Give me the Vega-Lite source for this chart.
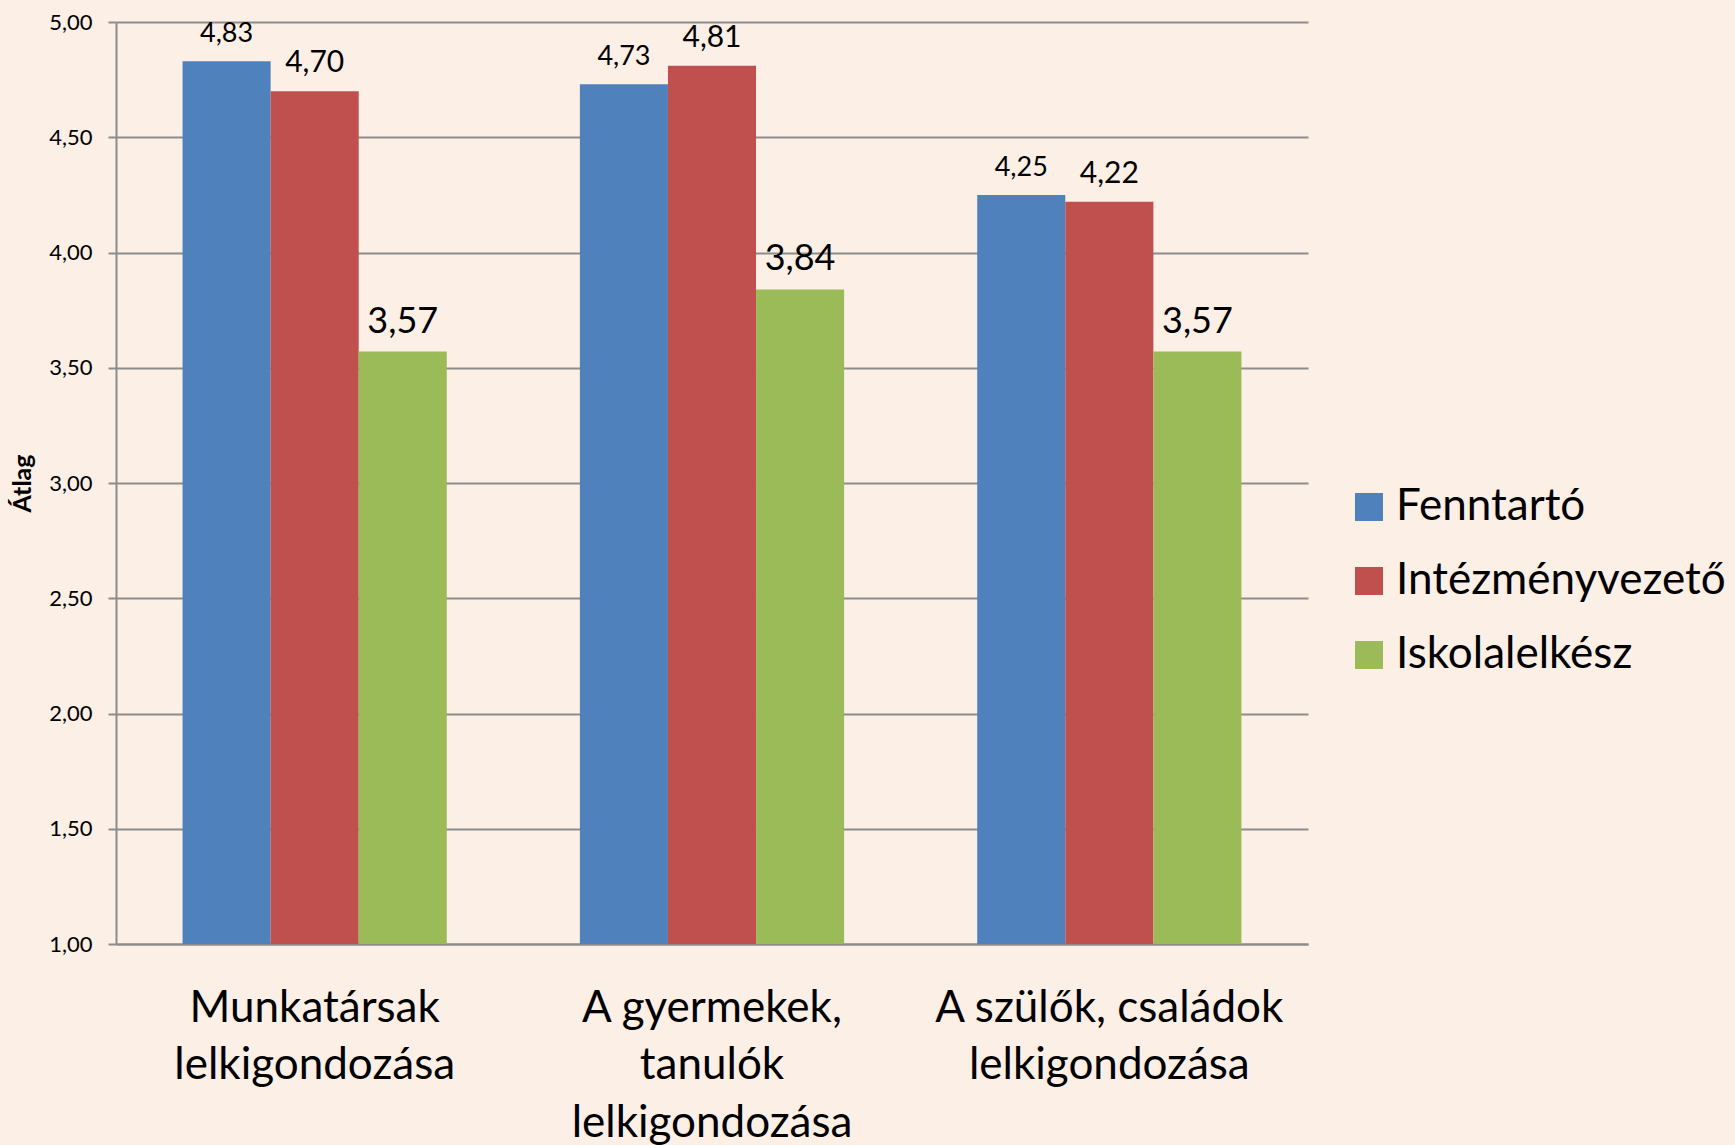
{
  "$schema": "https://vega.github.io/schema/vega-lite/v6.json",
  "width": 1192,
  "height": 922,
  "autosize": {"type": "none"},
  "padding": {"left": 116, "top": 22, "right": 427, "bottom": 201},
  "background": "#FCEFE6",
  "config": {
    "view": {"stroke": null},
    "font": "Lato",
    "locale": {"number": {"decimal": ",", "thousands": " ", "grouping": [3], "currency": ["", " Ft"]}}
  },
  "data": {
    "values": [
      {"category": "Munkatársak lelkigondozása", "series": "Fenntartó", "value": 4.83},
      {"category": "Munkatársak lelkigondozása", "series": "Intézményvezető", "value": 4.70},
      {"category": "Munkatársak lelkigondozása", "series": "Iskolalelkész", "value": 3.57},
      {"category": "A gyermekek, tanulók lelkigondozása", "series": "Fenntartó", "value": 4.73},
      {"category": "A gyermekek, tanulók lelkigondozása", "series": "Intézményvezető", "value": 4.81},
      {"category": "A gyermekek, tanulók lelkigondozása", "series": "Iskolalelkész", "value": 3.84},
      {"category": "A szülők, családok lelkigondozása", "series": "Fenntartó", "value": 4.25},
      {"category": "A szülők, családok lelkigondozása", "series": "Intézményvezető", "value": 4.22},
      {"category": "A szülők, családok lelkigondozása", "series": "Iskolalelkész", "value": 3.57}
    ]
  },
  "encoding": {
    "x": {
      "field": "category",
      "type": "nominal",
      "sort": ["Munkatársak lelkigondozása", "A gyermekek, tanulók lelkigondozása", "A szülők, családok lelkigondozása"],
      "scale": {"paddingInner": 0.335, "paddingOuter": 0.1675},
      "axis": {
        "title": null,
        "labelAngle": 0,
        "labelFontSize": 44,
        "labelColor": "#000000",
        "labelLineHeight": 57.5,
        "labelBaseline": "top",
        "labelPadding": 42,
        "labelLimit": 600,
        "ticks": false,
        "domainColor": "#8C8C8C",
        "domainWidth": 2,
        "labelExpr": "datum.value == 'Munkatársak lelkigondozása' ? ['Munkatársak', 'lelkigondozása'] : datum.value == 'A gyermekek, tanulók lelkigondozása' ? ['A gyermekek,', 'tanulók', 'lelkigondozása'] : ['A szülők, családok', 'lelkigondozása']"
      }
    },
    "xOffset": {
      "field": "series",
      "type": "nominal",
      "sort": ["Fenntartó", "Intézményvezető", "Iskolalelkész"],
      "scale": {"paddingInner": 0, "paddingOuter": 0}
    },
    "y": {
      "field": "value",
      "type": "quantitative",
      "scale": {"domain": [1, 5], "nice": false, "zero": false},
      "axis": {
        "title": "Átlag",
        "titleFontSize": 25,
        "titleFontWeight": "bold",
        "titleColor": "#000000",
        "titleX": -94,
        "titleY": 461,
        "titleAngle": -90,
        "titleAlign": "center",
        "titleBaseline": "middle",
        "values": [1, 1.5, 2, 2.5, 3, 3.5, 4, 4.5, 5],
        "format": ".2f",
        "labelFontSize": 22,
        "labelColor": "#000000",
        "labelPadding": 16,
        "tickSize": 8,
        "tickColor": "#8C8C8C",
        "tickWidth": 2,
        "domainColor": "#8C8C8C",
        "domainWidth": 2,
        "gridColor": "#8C8C8C",
        "gridWidth": 2,
        "gridOpacity": 1
      }
    }
  },
  "layer": [
    {
      "mark": {"type": "bar"},
      "encoding": {
        "y2": {"datum": 1},
        "color": {
          "field": "series",
          "type": "nominal",
          "sort": ["Fenntartó", "Intézményvezető", "Iskolalelkész"],
          "scale": {"domain": ["Fenntartó", "Intézményvezető", "Iskolalelkész"], "range": ["#4F81BD", "#C0504D", "#9BBB59"]},
          "legend": {
            "title": null,
            "orient": "none",
            "legendX": 1231,
            "legendY": 463,
            "symbolType": "square",
            "symbolSize": 784,
            "symbolStrokeWidth": 0,
            "symbolOpacity": 1,
            "labelFontSize": 44,
            "labelColor": "#000000",
            "labelOffset": 5,
            "rowPadding": 30,
            "labelLimit": 600
          }
        }
      }
    },
    {
      "mark": {"type": "text", "baseline": "alphabetic", "dy": -19, "color": "#000000"},
      "encoding": {
        "text": {"field": "value", "type": "quantitative", "format": ".2f"},
        "size": {
          "condition": [
            {"test": "datum.series == 'Fenntartó'", "value": 27},
            {"test": "datum.series == 'Intézményvezető'", "value": 30}
          ],
          "value": 36
        }
      }
    }
  ]
}
